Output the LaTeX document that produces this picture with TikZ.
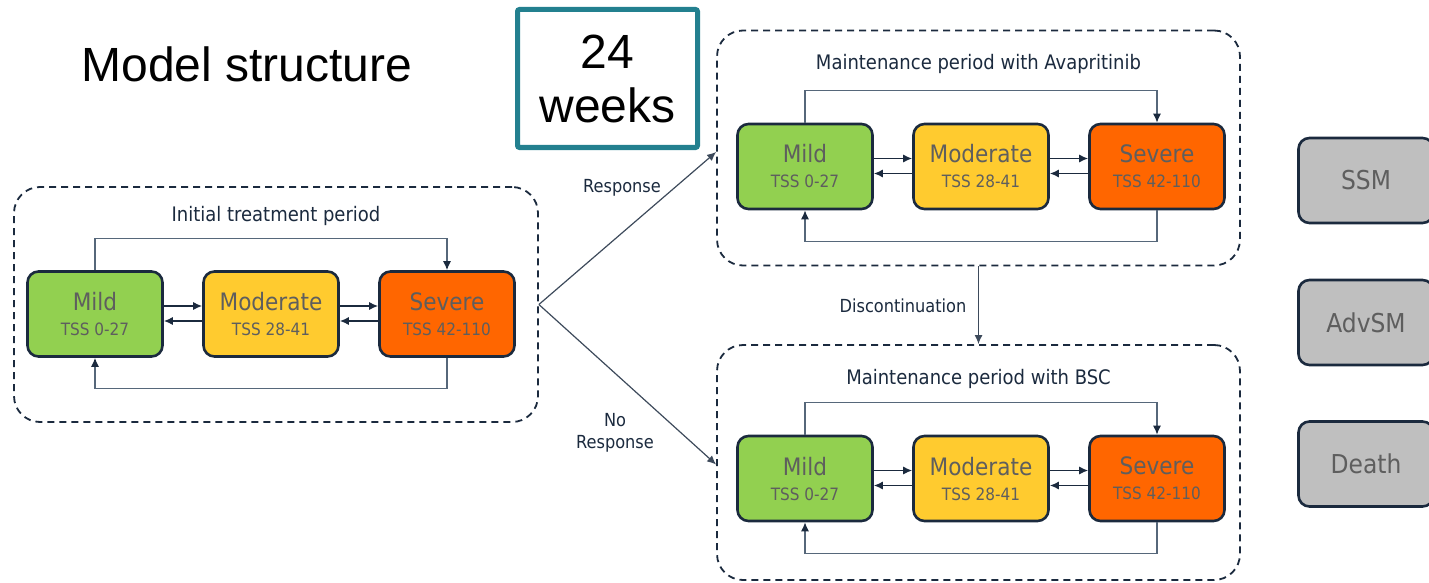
\documentclass[tikz,border=0pt]{standalone}
\usepackage{fontspec}
\setmainfont{Liberation Sans}
\newfontfamily\boxfont{DejaVu Sans Condensed}
\usetikzlibrary{positioning,arrows.meta,calc}

\definecolor{navy}{HTML}{1B2A3E}
\definecolor{loopgrey}{HTML}{56677A}
\definecolor{stategrey}{HTML}{5E5E5E}
\definecolor{mildgreen}{HTML}{92D050}
\definecolor{modyellow}{HTML}{FFCB2F}
\definecolor{sevorange}{HTML}{FF6600}
\definecolor{endgrey}{HTML}{BFBFBF}
\definecolor{weekteal}{HTML}{23808F}

\tikzset{
  state/.style={draw=navy, line width=2.6pt, rounded corners=11pt, minimum width=135pt,
    minimum height=85pt, align=center, text=stategrey, font=\boxfont\fontsize{17}{25}\selectfont},
  panel/.style={draw=navy, line width=1.8pt, dash pattern=on 7pt off 5pt, rounded corners=26pt},
  paneltitle/.style={text=navy, font=\boxfont\fontsize{20}{22}\selectfont},
  trans/.style={draw=navy, line width=1.4pt, -{Latex[length=9pt,width=8pt]}},
  loopline/.style={draw=loopgrey, line width=1.3pt, -{Latex[length=9pt,width=8pt,color=navy]}},
  link/.style={draw=navy!85, line width=1.2pt, -{Latex[length=9pt,width=8pt]}},
  linklabel/.style={text=navy, align=center, font=\boxfont\fontsize{18}{22}\selectfont}
}

\newcommand{\statetext}[2]{{\fontsize{24}{24}\selectfont #1}\\#2}

\begin{document}
\begin{tikzpicture}[x=1pt,y=-1pt]
\useasboundingbox (0,0) rectangle (1429,583);
\clip (0,0) rectangle (1429,583);

\node[anchor=base west, font=\fontsize{48}{50}\selectfont] (title) at (78,82) {Model structure};
\node[draw=weekteal, line width=5pt, rounded corners=2pt, minimum width=180pt, minimum height=138pt,
  align=center, font=\fontsize{48}{54}\selectfont] (weeks) at (607.5,78.5) {24\\weeks};

% the three periods
\foreach \p/\x/\y/\fx/\fy/\fw/\ty/\title in {A/95/314/276/304.5/524/30/Initial treatment period,
    B/805/166.5/978.5/148/523/34/Maintenance period with Avapritinib,
    C/805/478.5/978.5/462.5/523/35/Maintenance period with BSC} {
  \node[panel, minimum width=\fw pt, minimum height=235pt] (frame\p) at (\fx,\fy) {};
  \node[paneltitle] (title\p) at ($(frame\p.north)+(0,\ty)$) {\title};
  \node[state, fill=mildgreen] (mild\p) at (\x,\y) {\statetext{Mild}{TSS 0-27}};
  \node[state, fill=modyellow] (mod\p) at (\x+176,\y) {\statetext{Moderate}{TSS 28-41}};
  \node[state, fill=sevorange] (sev\p) at (\x+352,\y) {\statetext{Severe}{TSS 42-110}};

  % transitions between neighbours
  \foreach \a/\b in {mild/mod, mod/sev} {
    \draw[trans] ([yshift=8pt]\a\p.east) -- ([yshift=8pt]\b\p.west);
    \draw[trans] ([yshift=-7pt]\b\p.west) -- ([yshift=-7pt]\a\p.east);
  }
  \draw[loopline] (mild\p.north) -- ++(0,-32) -| (sev\p.north);
  \draw[loopline] (sev\p.south) -- ++(0,31) -| (mild\p.south);
}

% links between periods
\draw[link] (frameA.east) -- ([yshift=-4pt]frameB.west);
\draw[link] (frameA.east) -- ([yshift=-2pt]frameC.west);
\draw[link] (frameB.south) -- (frameC.north);
\node[linklabel] (resp) at (622,188) {Response};
\node[linklabel] (noresp) at (615,433) {No\\Response};
\node[linklabel] (disc) at (903,306) {Discontinuation};

% other health states
\foreach \n/\y in {SSM/180.5, AdvSM/322.5, Death/464}
  \node[state, fill=endgrey] (\n) at (1366,\y) {{\fontsize{26}{26}\selectfont \n}};

\end{tikzpicture}
\end{document}
